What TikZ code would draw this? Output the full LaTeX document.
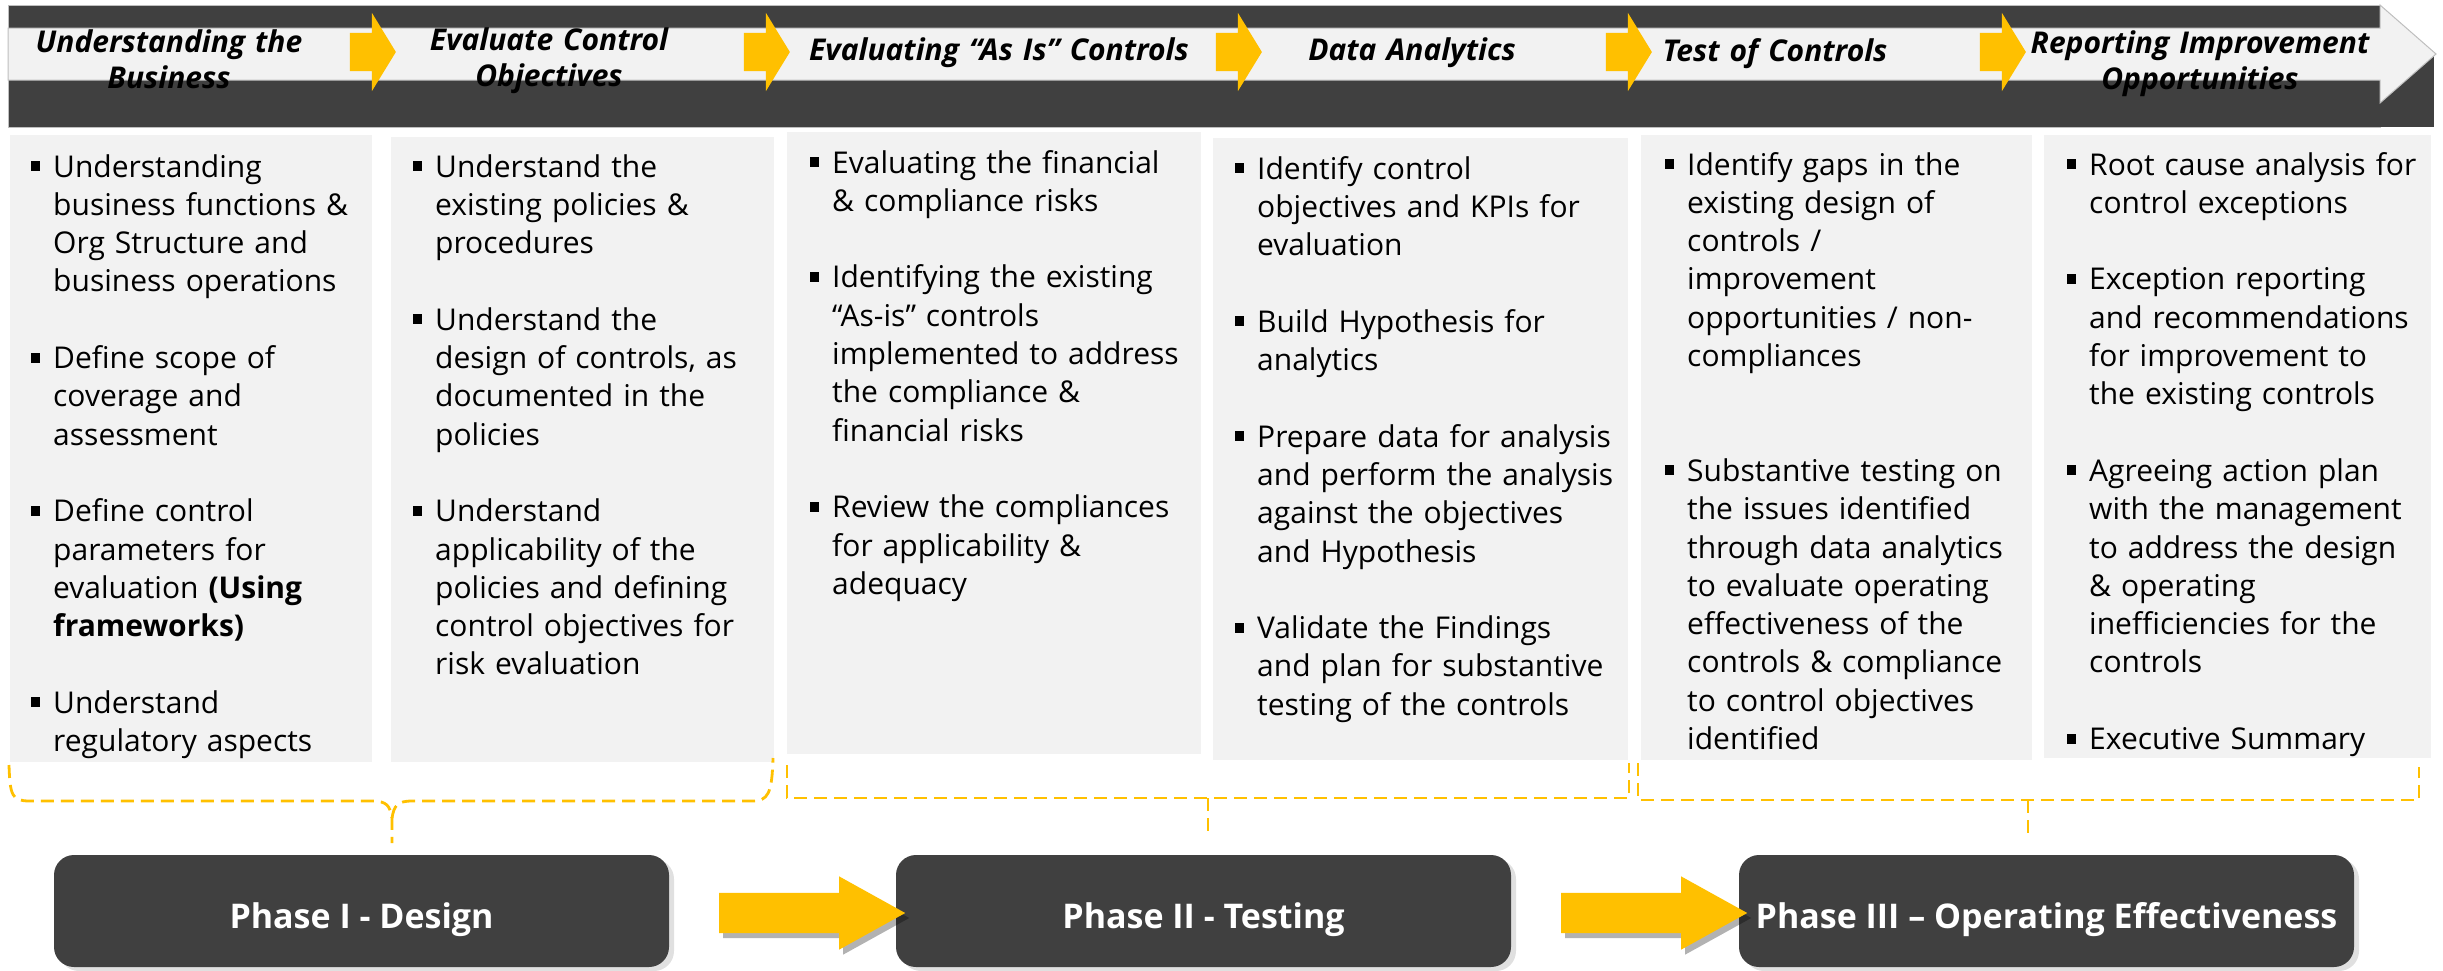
\documentclass[tikz,border=0pt]{standalone}
\usepackage{fontspec}
\setmainfont{Open Sans}
\usetikzlibrary{shapes.arrows,shadows}

\definecolor{bannergray}{HTML}{404040}
\definecolor{panelgray}{HTML}{F2F2F2}
\definecolor{rimgray}{HTML}{BFBFBF}
\definecolor{amber}{HTML}{FFC000}

% square bullet with hanging indent
\newcommand{\bul}{\hangindent=22pt\makebox[22pt][l]{\raisebox{6pt}{\rule{9pt}{10pt}}}}
\newcommand{\gap}[1][1]{\par\vspace{#1\baselineskip}}

\begin{document}
\begin{tikzpicture}[x=1pt, y=-1pt,
    panel/.style={fill=panelgray, inner sep=0pt, anchor=north west},
    items/.style={anchor=base west, inner sep=0pt, text width=390pt, align=left,
        font=\fontsize{30}{38.3}\selectfont},
    stage/.style={anchor=base, inner sep=0pt, text width=420pt, align=center,
        font=\fontsize{30}{36}\selectfont\bfseries\itshape},
    stagearrow/.style={single arrow, fill=amber, inner sep=0pt, text height=38pt, text depth=0pt,
        minimum height=46pt, single arrow head extend=20pt, single arrow tip angle=117},
    phase/.style={fill=bannergray, rounded corners=20pt, inner sep=0pt, minimum width=615pt,
        minimum height=112pt, text=white, font=\fontsize{34}{40}\selectfont\bfseries,
        text height=34pt, text depth=0pt,
        drop shadow={shadow xshift=5pt, shadow yshift=-4pt, fill=black, opacity=0.12}},
    phasearrow/.style={single arrow, fill=amber, inner sep=0pt, text height=40pt, text depth=0pt,
        minimum height=186pt, single arrow head extend=16.5pt, single arrow tip angle=58,
        drop shadow={shadow xshift=4pt, shadow yshift=-5pt, fill=black, opacity=0.3}},
    brace/.style={draw=amber, line width=2.8pt, dash pattern=on 13pt off 7pt}]

    \useasboundingbox (0,0) rectangle (2443,970);

    % Banner
    \filldraw[fill=bannergray, draw=rimgray, line width=1pt] (8,5) rectangle (2380,127);
    \fill[bannergray] (2380,54) rectangle (2434,127);
    \filldraw[fill=panelgray, draw=rimgray, line width=1pt]
        (8,28) -- (2380,28) -- (2380,5) -- (2436,54) -- (2380,103) -- (2380,80) -- (8,80) -- cycle;

    % Stages
    \node[stage] (s1) at (169,52) {Understanding the\\ Business};
    \node[stage] (s2) at (549,50) {Evaluate Control\\ Objectives};
    \node[stage] (s3) at (999,60) {Evaluating “As Is” Controls};
    \node[stage] (s4) at (1412,60) {Data Analytics};
    \node[stage] (s5) at (1775,61) {Test of Controls};
    \node[stage] (s6) at (2200,53) {Reporting Improvement\\ Opportunities};

    % Arrows between stages
    \node[stagearrow] (s12) at (367,52) {};
    \node[stagearrow] (s23) at (761,52) {};
    \node[stagearrow] (s34) at (1233,52) {};
    \node[stagearrow] (s45) at (1623,52) {};
    \node[stagearrow] (s56) at (1997,52) {};

    % Panels
    \node[panel, minimum width=362pt, minimum height=627pt] (c1) at (10,135) {};
    \node[panel, minimum width=383pt, minimum height=625pt] (c2) at (391,137) {};
    \node[panel, minimum width=414pt, minimum height=622pt] (c3) at (787,132) {};
    \node[panel, minimum width=415pt, minimum height=622pt] (c4) at (1213,138) {};
    \node[panel, minimum width=391pt, minimum height=625pt] (c5) at (1641,135) {};
    \node[panel, minimum width=387pt, minimum height=623pt] (c6) at (2044,135) {};

    % Panel texts
    \node[items] (t1) at (31,177) {%
        \bul Understanding\newline business functions \&\newline Org Structure and\newline business operations\gap
        \bul Define scope of\newline coverage and\newline assessment\gap
        \bul Define control\newline parameters for\newline evaluation \textbf{(Using}\newline \textbf{frameworks)}\gap
        \bul Understand\newline regulatory aspects\par};
    \node[items] (t2) at (413,177) {%
        \bul Understand the\newline existing policies \&\newline procedures\gap
        \bul Understand the\newline design of controls, as\newline documented in the\newline policies\gap
        \bul Understand\newline applicability of the\newline policies and defining\newline control objectives for\newline risk evaluation\par};
    \node[items] (t3) at (810,173) {%
        \bul Evaluating the financial\newline \& compliance risks\gap
        \bul Identifying the existing\newline “As-is” controls\newline implemented to address\newline the compliance \&\newline financial risks\gap
        \bul Review the compliances\newline for applicability \&\newline adequacy\par};
    \node[items] (t4) at (1235,179) {%
        \bul Identify control\newline objectives and KPIs for\newline evaluation\gap
        \bul Build Hypothesis for\newline analytics\gap
        \bul Prepare data for analysis\newline and perform the analysis\newline against the objectives\newline and Hypothesis\gap
        \bul Validate the Findings\newline and plan for substantive\newline testing of the controls\par};
    \node[items] (t5) at (1665,175) {%
        \bul Identify gaps in the\newline existing design of\newline controls /\newline improvement\newline opportunities / non-\newline compliances\gap[2]
        \bul Substantive testing on\newline the issues identified\newline through data analytics\newline to evaluate operating\newline effectiveness of the\newline controls \& compliance\newline to control objectives\newline identified\par};
    \node[items] (t6) at (2067,175) {%
        \bul Root cause analysis for\newline control exceptions\gap
        \bul Exception reporting\newline and recommendations\newline for improvement to\newline the existing controls\gap
        \bul Agreeing action plan\newline with the management\newline to address the design\newline \& operating\newline inefficiencies for the\newline controls\gap
        \bul Executive Summary\par};

    % Braces under the panels
    \draw[brace] (9,765) .. controls (10,796) and (12,801) .. (30,801) -- (372,801)
        .. controls (387,801) and (390,806) .. (392,818) -- (392,843);
    \draw[brace] (392,818) .. controls (394,806) and (397,801) .. (412,801) -- (752,801)
        .. controls (768,801) and (772,794) .. (773,758);
    \draw[brace] (787,765) -- (787,798) -- (1629,798) -- (1629,763);
    \draw[brace] (1208,798) -- (1208,837);
    \draw[brace] (1638,763) -- (1638,800) -- (2419,800) -- (2419,767);
    \draw[brace] (2028,800) -- (2028,833);

    % Phases
    \node[phase] (p1) at (361.5,911) {Phase I - Design};
    \node[phase] (p2) at (1203.5,911) {Phase II - Testing};
    \node[phase] (p3) at (2046.5,911) {Phase III – Operating Effectiveness};

    % Arrows between phases
    \node[phasearrow] (p12) at (794,913) {};
    \node[phasearrow] (p23) at (1636,913) {};
\end{tikzpicture}
\end{document}
